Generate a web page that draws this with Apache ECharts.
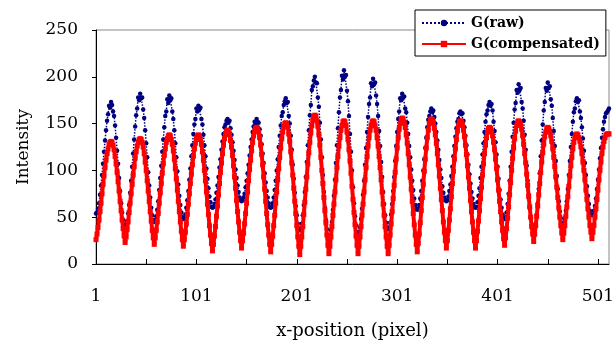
<!DOCTYPE html>
<html>
<head>
<meta charset="utf-8">
<script src="https://cdn.jsdelivr.net/npm/echarts@6/dist/echarts.min.js"></script>
<style>
  html, body { margin: 0; padding: 0; background: #fff; }
  #chart { width: 616px; height: 345px; }
</style>
</head>
<body>
<div id="chart"></div>
<script>
// G channel intensity along the x-position, one sample per pixel (1..512)
const rawG = [
  54,55,59,65,74,84,95,107,120,132,143,153,160,169,167,173,
  170,163,158,148,135,121,107,92,78,65,55,47,42,40,
  42,46,54,63,76,89,104,118,133,147,159,166,178,175,182,
  177,178,165,156,143,129,114,98,84,71,60,52,47,45,
  46,51,58,67,79,92,105,120,133,146,158,163,176,172,180,
  175,177,163,155,143,129,114,99,85,73,63,55,50,48,
  49,53,60,68,78,90,102,115,127,139,149,155,166,163,169,
  165,167,155,149,138,127,115,102,91,81,72,66,61,60,
  61,64,69,76,84,93,103,112,122,131,139,146,149,153,155,
  151,153,145,138,130,121,111,101,92,84,77,71,68,67,
  68,71,75,82,89,97,106,116,125,133,141,147,152,150,155,
  152,151,144,137,128,118,108,97,87,78,71,65,61,60,
  61,65,71,79,89,100,112,125,137,148,158,162,170,174,177,
  172,173,158,150,137,122,106,91,76,62,52,43,38,36,
  38,43,52,63,77,93,109,127,143,159,170,186,190,196,200,
  194,193,178,168,151,133,114,95,77,60,47,37,30,28,
  30,36,45,58,73,90,108,127,145,162,178,186,201,197,207,
  200,202,185,174,158,139,120,100,82,65,51,41,34,32,
  34,39,48,59,74,89,106,124,141,157,171,178,193,190,198,
  192,194,180,171,158,142,126,109,93,77,64,52,44,39,37,
  39,44,53,64,78,93,110,126,141,155,163,177,175,182,
  178,179,166,162,151,139,126,114,101,89,79,70,63,59,58,
  59,63,70,78,89,100,112,124,135,146,154,158,163,166,
  162,164,157,150,141,132,122,111,101,92,83,76,71,68,67,
  68,72,78,85,94,104,115,126,136,145,152,155,161,163,
  160,161,153,146,137,127,117,106,96,86,77,70,64,61,60,
  61,66,73,81,92,104,117,129,141,152,160,164,170,173,
  169,171,164,152,142,130,117,104,91,79,69,60,53,49,48,
  50,55,64,75,89,104,120,136,151,165,172,186,183,192,
  186,188,173,166,153,138,122,105,89,74,61,50,42,37,35,
  37,43,53,65,80,97,115,132,149,164,173,188,185,194,
  188,190,176,169,156,142,126,110,94,80,67,56,49,44,42,
  44,49,57,67,80,95,110,125,139,152,162,166,174,177,
  173,175,163,156,146,134,121,108,95,83,73,64,57,53,52,
  53,57,62,70,80,90,101,113,124,135,144,152,157,161,162,
  164,166
];

const compensatedG = [
  26,32,39,47,56,65,75,85,94,103,111,118,123,128,130,131,
  130,127,122,115,107,98,88,78,67,57,47,38,30,23,
  29,37,45,55,65,75,85,95,104,113,120,126,130,133,134,
  133,130,125,118,109,100,89,78,67,56,46,36,28,21,
  28,36,45,54,65,76,86,97,107,116,123,130,134,137,138,
  137,133,128,121,112,102,91,79,67,56,45,35,26,19,
  26,34,43,53,64,75,86,96,106,115,123,129,134,137,138,
  137,133,128,120,111,100,89,77,64,53,41,31,22,14,
  21,30,40,51,62,74,86,98,108,118,127,134,139,142,143,
  142,138,132,125,116,105,93,81,68,56,45,34,25,17,
  25,33,43,54,65,77,89,101,111,121,130,137,142,145,146,
  145,141,135,127,117,106,93,80,67,54,42,31,21,13,
  21,30,41,52,65,77,90,102,114,124,134,141,147,150,151,
  150,146,139,131,120,108,95,81,67,54,41,29,19,10,
  19,29,40,53,66,80,93,107,119,130,140,148,154,158,159,
  158,153,147,138,127,114,100,86,71,57,44,31,20,11,
  19,29,40,52,64,77,90,103,115,126,135,143,148,152,153,
  152,148,141,133,122,110,97,83,69,55,42,30,20,11,
  19,29,40,52,64,77,90,103,115,126,135,143,148,152,153,
  152,148,143,135,126,115,103,90,77,64,52,40,29,19,11,
  20,31,43,56,70,84,98,112,124,135,144,150,155,156,
  155,151,146,138,129,118,106,93,80,67,54,42,31,21,13,
  22,32,44,57,71,85,99,112,124,135,143,150,154,155,
  154,151,145,138,129,118,106,94,81,69,57,45,34,25,17,
  25,36,47,59,72,86,99,112,123,133,142,148,152,153,
  152,149,143,136,127,117,105,93,81,68,56,45,34,25,17,
  25,35,46,57,70,82,95,107,118,127,135,141,145,146,
  145,142,137,130,122,112,102,90,79,67,56,45,36,27,20,
  28,38,49,61,74,87,100,113,124,134,142,148,152,153,
  152,149,144,137,128,118,108,96,84,72,61,50,40,32,24,
  32,41,51,62,74,86,98,109,119,128,136,141,145,146,
  145,142,137,131,123,114,104,93,82,71,60,50,41,33,26,
  33,41,51,61,72,83,94,105,114,123,130,135,138,139,
  138,135,131,125,118,109,100,90,79,69,59,50,41,34,27,
  34,41,50,59,69,79,90,100,109,118,125,131,135,138,139,
  139,139
];

// pixel index along the line profile
const xPositions = rawG.map((_, i) => String(i + 1));

const seriesNames = ['G(raw)', 'G(compensated)'];

const serif = 'DejaVu Serif';
const chart = echarts.init(document.getElementById('chart'), null, { renderer: 'canvas' });

chart.setOption({
  animation: false,
  backgroundColor: '#fff',
  grid: {
    left: 96, right: 7, top: 30, bottom: 81,
    outerBoundsMode: 'none',
    show: true, borderColor: '#8a8a8a', borderWidth: 1, backgroundColor: '#fff'
  },
  legend: {
    data: seriesNames,
    orient: 'vertical',
    left: 415, top: 10,
    padding: [6, 6, 5, 6],
    itemGap: 7,
    itemWidth: 44,
    itemHeight: 8,
    backgroundColor: '#fff',
    borderColor: '#000',
    borderWidth: 1,
    borderRadius: 0,
    textStyle: { fontFamily: serif, fontSize: 14, fontWeight: 'bold', color: '#000' }
  },
  xAxis: {
    type: 'category',
    data: xPositions,
    boundaryGap: false,
    name: 'x-position (pixel)',
    nameLocation: 'middle',
    nameGap: 58,
    nameTextStyle: { fontFamily: serif, fontSize: 18, color: '#000' },
    axisLine: { show: true, lineStyle: { color: '#000', width: 1 } },
    axisTick: { show: true, inside: true, length: 5, interval: 49, lineStyle: { color: '#000' } },
    axisLabel: { interval: 99, margin: 24, fontFamily: serif, fontSize: 17, color: '#000' },
    splitLine: { show: false }
  },
  yAxis: {
    type: 'value',
    min: 0, max: 250, interval: 50,
    name: 'Intensity',
    nameLocation: 'middle',
    nameGap: 64,
    nameTextStyle: { fontFamily: serif, fontSize: 17, color: '#000' },
    axisLine: { show: true, lineStyle: { color: '#000', width: 1 } },
    axisTick: { show: true, inside: false, length: 4, lineStyle: { color: '#000' } },
    axisLabel: { margin: 18, fontFamily: serif, fontSize: 17, color: '#000' },
    splitLine: { show: false }
  },
  series: [
    {
      name: seriesNames[0],
      type: 'line',
      data: rawG,
      z: 2,
      showAllSymbol: true,
      symbol: 'circle',
      symbolSize: 4.5,
      itemStyle: { color: '#000080' },
      lineStyle: { color: '#000080', width: 1.5, type: 'dotted' }
    },
    {
      name: seriesNames[1],
      type: 'line',
      data: compensatedG,
      z: 3,
      showAllSymbol: true,
      symbol: 'rect',
      symbolSize: 5,
      itemStyle: { color: '#ff0000' },
      lineStyle: { color: '#ff0000', width: 4 }
    }
  ]
});
</script>
</body>
</html>
